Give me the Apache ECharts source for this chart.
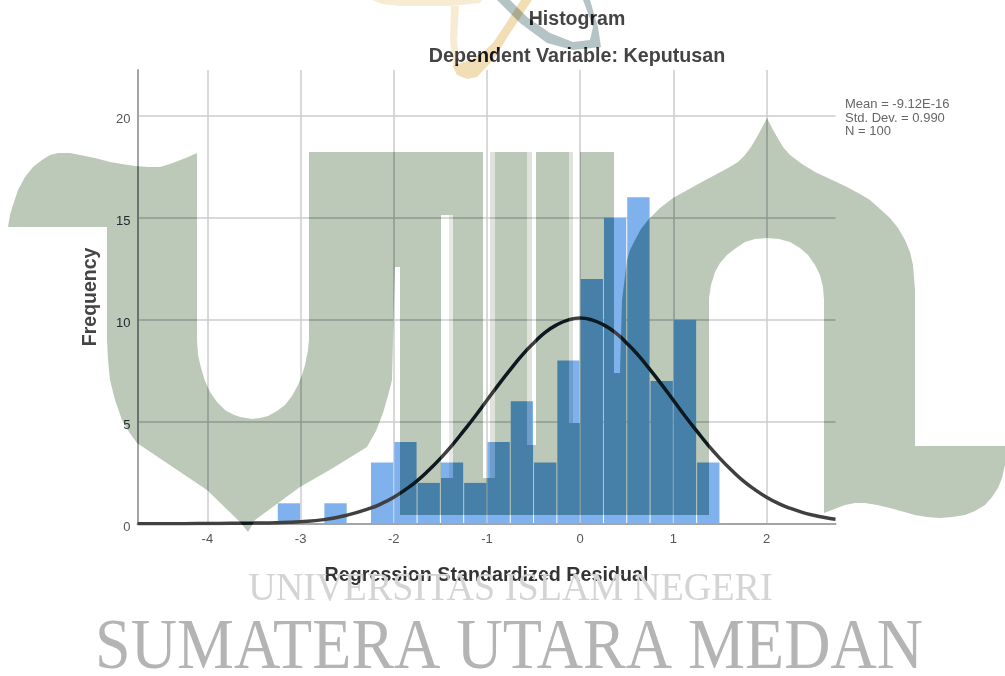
<!DOCTYPE html>
<html>
<head>
<meta charset="utf-8">
<title>Histogram</title>
<style>
	html, body { margin: 0; padding: 0; background: #fff; }
	#chart { width: 1005px; height: 676px; }
</style>
<script src="https://cdn.jsdelivr.net/npm/echarts@6/dist/echarts.min.js"></script>
</head>
<body>
<div id="chart"></div>
<script>
// histogram bins
var binStart = [-3.25, -2.75, -2.25, -2, -1.75, -1.5, -1.25, -1, -0.75, -0.5, -0.25, 0, 0.25, 0.5, 0.75, 1, 1.25];
var binEnd = [-3, -2.5, -2, -1.75, -1.5, -1.25, -1, -0.75, -0.5, -0.25, 0, 0.25, 0.5, 0.75, 1, 1.25, 1.5];
var frequency = [1, 1, 3, 4, 2, 3, 2, 4, 6, 3, 8, 12, 15, 16, 7, 10, 3];

// normal curve
var curveX = [-4.75, -4.5, -4.25, -4, -3.75, -3.5, -3.25, -3, -2.75, -2.5, -2.25, -2.125, -2, -1.875, -1.75, -1.625, -1.5, -1.375, -1.25, -1.125, -1, -0.875, -0.75, -0.625, -0.5, -0.375, -0.25, -0.125, 0, 0.125, 0.25, 0.375, 0.5, 0.625, 0.75, 0.875, 1, 1.125, 1.25, 1.375, 1.5, 1.625, 1.75, 1.875, 2, 2.125, 2.25, 2.375, 2.5, 2.625, 2.74];
var curveY = [0, 0, 0, 0.01, 0.02, 0.03, 0.05, 0.1, 0.2, 0.42, 0.76, 1.0, 1.3, 1.67, 2.1, 2.62, 3.2, 3.84, 4.55, 5.28, 6.05, 6.82, 7.55, 8.25, 8.85, 9.38, 9.75, 9.99, 10.08, 9.99, 9.75, 9.38, 8.85, 8.25, 7.55, 6.82, 6.05, 5.28, 4.55, 3.84, 3.2, 2.62, 2.1, 1.67, 1.3, 1.0, 0.76, 0.57, 0.42, 0.3, 0.22];

var xTicks = [-4, -3, -2, -1, 0, 1, 2];
var yTicks = [0, 5, 10, 15, 20];

var titleMain = 'Histogram';
var titleSub = 'Dependent Variable: Keputusan';
var xName = 'Regression Standardized Residual';
var yName = 'Frequency';
var statsText = 'Mean = -9.12E-16\nStd. Dev. = 0.990\nN = 100';

// watermark outlines, page pixels
var logoBody = [
	[8,227],[10,215],[13,205],[18,190],[25,177],[33,167],[42,160],[50,155],[58,153],[70,153],[80,155],[95,158],[110,162],[122,164],[135,166],[148,167],[160,167],[170,164],[178,161],[188,157],[197,153],
	[197,340],[198,355],[201,368],[205,381],[210,392],[217,402],[225,410],[232,414],[240,417],[252,419],[260,418],[268,416],[277,411],[285,405],[292,396],[298,385],[302,375],[305,365],[308,350],[309,340],
	[309,152],[447,152],[447,215],[441,215],[441,478],[453,478],[453,215],[447,215],[447,152],
	[483,152],[483,478],[495,478],[495,152],[527,152],[527,445],[536,445],[536,152],
	[569,152],[569,423],[580,423],[580,152],[614,152],[614,373],[620,373],[622,300],[627,260],[630,250],[635,240],[641,229],[648,220],[660,208],[673,198],
	[700,183],[728,168],[738,162],[745,155],[751,147],[757,137],[767,118],[772,128],[777,137],[783,147],[790,155],[802,164],[815,172],[845,186],[860,194],[870,200],[890,218],[898,228],[905,240],[910,252],[913,265],[915,290],
	[915,446],[1005,446],[1005,465],[1002,478],[998,488],[992,497],[985,505],[975,511],[965,515],[952,517],[940,518],[927,517],[915,515],[890,508],[877,505],[865,503],[855,503],[845,505],[824,513],
	[824,300],[823,287],[820,275],[815,265],[808,255],[800,248],[790,242],[779,239],[767,238],[755,239],[745,242],[736,248],[727,255],[720,263],[715,272],[711,285],[709,298],[709,515],
	[400,515],[400,267],[395,267],[393,340],[392,380],[389,392],[383,413],[376,431],[367,447],[333,468],[300,487],[255,520],[248,532],[240,522],[207,490],[137,443],[129,432],[122,420],[115,400],[110,380],[108,360],[107,340],[107,227]
];
var slotStrips = [
	[[449,215],[453,215],[453,478],[449,478]],
	[[490,152],[495,152],[495,478],[490,478]],
	[[527,152],[532,152],[532,445],[527,445]],
	[[569,152],[573,152],[573,423],[569,423]]
];
var logoBand = [[372,0],[382,4],[400,6],[450,6],[480,3],[482,0]];
var logoStem = [[451,6],[459,6],[457,40],[459,62],[453,67],[450,40]];
var logoBlob = [[453,67],[455,65],[470,60],[483,52],[493,43],[507,22],[521,0],[532,0],[510,33],[493,60],[477,77],[467,79],[457,75]];
var logoGrey = [[497,0],[510,0],[527,17],[550,33],[573,42],[590,40],[593,27],[583,0],[590,0],[598,27],[601,47],[573,50],[547,43],[520,23]];

var myChart = echarts.init(document.getElementById('chart'));

// the watermark darkens what is under it more than a plain multiply does,
// so a colour-burn pass goes first (white stays white in that pass)
function wmPolygon(points, color, burn) {
	var out = [{
		type: 'polygon',
		z: 101,
		silent: true,
		shape: { points: points },
		style: { fill: color, blend: 'multiply' }
	}];
	if (burn) {
		out.unshift({
			type: 'polygon',
			z: 100,
			silent: true,
			shape: { points: points },
			style: { fill: burn, blend: 'color-burn' }
		});
	}
	return out;
}

function wmText(text, x, y, size, sx, color) {
	return {
		type: 'text',
		z: 101,
		silent: true,
		x: x,
		y: y,
		scaleX: sx,
		style: {
			text: text,
			fill: color,
			font: size + 'px "Liberation Serif"',
			align: 'center',
			verticalAlign: 'middle',
			blend: 'multiply'
		}
	};
}

var barData = [];
for (var i = 0; i < frequency.length; i++) {
	barData.push([binStart[i], binEnd[i], frequency[i]]);
}
var curveData = [];
for (var j = 0; j < curveX.length; j++) {
	curveData.push([curveX[j], curveY[j]]);
}

var watermark = [].concat(
	wmPolygon(logoBody, '#bcc8b8', '#ccd9e6'),
	wmPolygon(slotStrips[0], '#e6e9e4'),
	wmPolygon(slotStrips[1], '#dfe3dc'),
	wmPolygon(slotStrips[2], '#dfe3dc'),
	wmPolygon(slotStrips[3], '#dfe3dc'),
	wmPolygon(logoBand, '#f7ebd3'),
	wmPolygon(logoStem, '#f7ebd3'),
	wmPolygon(logoBlob, '#f2deb4', '#ccccd9'),
	wmPolygon(logoGrey, '#b4c4c6', '#d9d9d9'),
	[
		wmText('UNIVERSITAS ISLAM NEGERI', 510.5, 589, 41, 0.93, '#d4d4d4'),
		wmText('SUMATERA UTARA MEDAN', 509, 649, 72, 0.89, '#b4b4b4')
	]
);

myChart.setOption({
	animation: false,
	backgroundColor: '#fff',
	textStyle: { fontFamily: '"Liberation Sans"' },
	title: [
		{
			text: titleMain, left: 572, top: 5, textAlign: 'center',
			textStyle: { fontSize: 19.5, fontWeight: 'bold', color: '#444' }
		},
		{
			text: titleSub, left: 572, top: 42, textAlign: 'center',
			textStyle: { fontSize: 19.7, fontWeight: 'bold', color: '#444' }
		},
		{
			text: statsText, left: 840, top: 93,
			textStyle: { fontSize: 13, fontWeight: 'normal', color: '#666', lineHeight: 13.3 }
		}
	],
	grid: { left: 137.5, right: 169.5, top: 70, bottom: 152.3 },
	xAxis: {
		type: 'value',
		min: -4.75,
		max: 2.74,
		name: xName,
		nameLocation: 'middle',
		nameGap: 42,
		nameTextStyle: { fontSize: 19.7, fontWeight: 'bold', color: '#333' },
		axisLine: { onZero: false, lineStyle: { color: '#a4a4a4', width: 2 } },
		axisTick: { show: false, customValues: xTicks },
		axisLabel: { customValues: xTicks, fontSize: 13, color: '#555', margin: 9 },
		splitLine: { show: true, lineStyle: { color: '#cdcdcd', width: 1.5 } }
	},
	yAxis: {
		type: 'value',
		min: 0,
		max: 22.24,
		name: yName,
		nameLocation: 'middle',
		nameGap: 37,
		nameTextStyle: { fontSize: 19.5, fontWeight: 'bold', color: '#444' },
		axisLine: { show: true, onZero: false, lineStyle: { color: '#a4a4a4', width: 2 } },
		axisTick: { show: false, customValues: yTicks },
		axisLabel: { customValues: yTicks, fontSize: 13, color: '#555', margin: 7, verticalAlign: 'top', lineHeight: 8 },
		splitLine: { show: true, lineStyle: { color: '#cdcdcd', width: 1.5 } }
	},
	series: [
		{
			type: 'custom',
			data: barData,
			encode: { x: [0, 1], y: 2 },
			z: 3,
			renderItem: function (params, api) {
				var p0 = api.coord([api.value(0), 0]);
				var p1 = api.coord([api.value(1), api.value(2)]);
				return {
					type: 'rect',
					shape: { x: p0[0] + 0.5, y: p1[1], width: p1[0] - p0[0] - 1, height: p0[1] - p1[1] },
					style: { fill: '#7fb1ec' }
				};
			}
		},
		{
			type: 'line',
			data: curveData,
			z: 4,
			smooth: true,
			showSymbol: false,
			lineStyle: { color: '#404040', width: 3.5 }
		}
	],
	graphic: watermark
});
</script>
</body>
</html>
